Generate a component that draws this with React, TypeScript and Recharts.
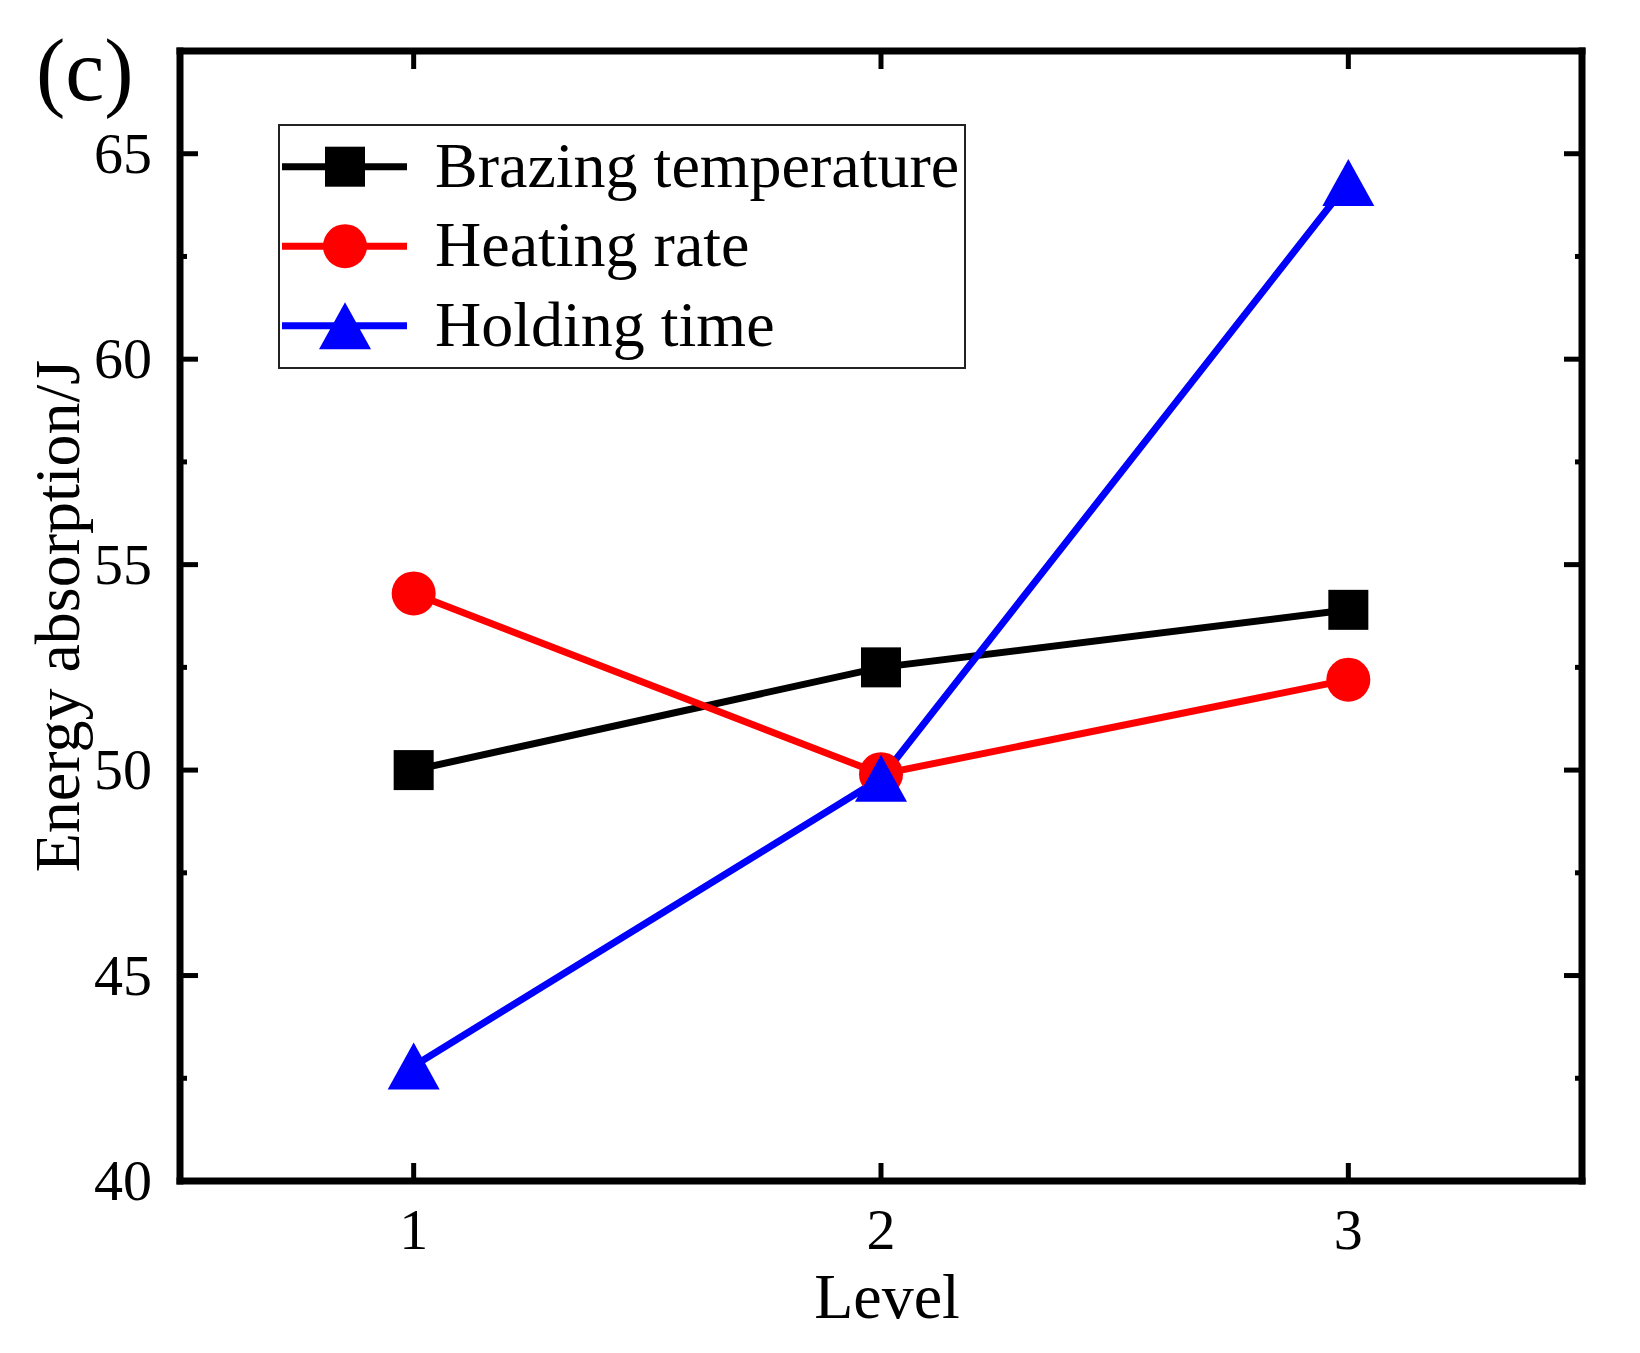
import { LineChart, Line, XAxis, YAxis, Legend, ReferenceLine } from 'recharts';

const levels = [1, 2, 3];
const brazingTemperature = [50.0, 52.5, 53.9];
const heatingRate = [54.3, 49.9, 52.2];
const holdingTime = [42.8, 49.8, 64.3];

const xDomain = [0.5, 3.5];
const yDomain = [40, 67.5];
const xTicks = [1, 2, 3];
const yMajorTicks = [40, 45, 50, 55, 60, 65];
const yMinorTicks = [42.5, 47.5, 52.5, 57.5, 62.5];
const yTicks = [...yMajorTicks, ...yMinorTicks].sort((a, b) => a - b);

const seriesNames = ['Brazing temperature', 'Heating rate', 'Holding time'];
const seriesKeys = ['brazing', 'heating', 'holding'];
const seriesColors = ['#000000', '#FF0000', '#0000FF'];
const seriesShapes = ['square', 'circle', 'triangle'];

const data = levels.map((level, i) => ({
  level,
  brazing: brazingTemperature[i],
  heating: heatingRate[i],
  holding: holdingTime[i],
}));

const FONT = "'Liberation Serif', 'Times New Roman', serif";

const Marker = ({ cx, cy, color, shape }: any) => {
  if (cx == null || cy == null) return null;
  if (shape === 'square') {
    return <rect x={cx - 20} y={cy - 20} width={40} height={40} fill={color} />;
  }
  if (shape === 'circle') {
    return <circle cx={cx} cy={cy} r={22} fill={color} />;
  }
  return (
    <polygon
      points={`${cx},${cy - 23.5} ${cx - 26},${cy + 23.5} ${cx + 26},${cy + 23.5}`}
      fill={color}
    />
  );
};

const BottomTick = ({ x, y, payload }: any) => (
  <g>
    <line x1={x} y1={y} x2={x} y2={y - 18} stroke="#000" strokeWidth={5} />
    <text x={x} y={y + 68} textAnchor="middle" fontFamily={FONT} fontSize={58} fill="#000">
      {payload.value}
    </text>
  </g>
);

const LeftTick = ({ x, y, payload }: any) => {
  const major = yMajorTicks.includes(payload.value);
  return (
    <g>
      <line x1={x} y1={y} x2={x + (major ? 18 : 7)} y2={y} stroke="#000" strokeWidth={5} />
      {major && (
        <text x={x - 28} y={y + 19} textAnchor="end" fontFamily={FONT} fontSize={58} fill="#000">
          {payload.value}
        </text>
      )}
    </g>
  );
};

// mirrored ticks on the top and right frame edges
const topTickShape = (props: any) => {
  const top = Math.min(props.y1, props.y2);
  return <line x1={props.x1} y1={top} x2={props.x1} y2={top + 18} stroke="#000" strokeWidth={5} />;
};

const rightTickShape = (value: number) => (props: any) => {
  const right = Math.max(props.x1, props.x2);
  const len = yMajorTicks.includes(value) ? 18 : 7;
  return <line x1={right - len} y1={props.y1} x2={right} y2={props.y1} stroke="#000" strokeWidth={5} />;
};

const YTitle = ({ viewBox }: any) => {
  const cy = viewBox.y + viewBox.height / 2;
  return (
    <text
      x={79}
      y={cy}
      transform={`rotate(-90, 79, ${cy})`}
      textAnchor="middle"
      fontFamily={FONT}
      fontSize={64}
      fill="#000"
    >
      Energy absorption/J
    </text>
  );
};

const XTitle = ({ viewBox }: any) => (
  <text
    x={viewBox.x + viewBox.width / 2 + 6}
    y={viewBox.y + 137}
    textAnchor="middle"
    fontFamily={FONT}
    fontSize={64}
    fill="#000"
  >
    Level
  </text>
);

const LegendBox = () => (
  <svg width={688} height={245} style={{ display: 'block' }}>
    <rect x={1} y={1} width={686} height={243} fill="#fff" stroke="#222" strokeWidth={2} />
    {seriesNames.map((name, i) => {
      const cy = 42.7 + i * 79.5;
      return (
        <g key={name}>
          <line x1={4} y1={cy} x2={129} y2={cy} stroke={seriesColors[i]} strokeWidth={7} />
          <Marker cx={67} cy={cy} color={seriesColors[i]} shape={seriesShapes[i]} />
          <text x={157} y={cy + 20} fontFamily={FONT} fontSize={64} fill="#000">
            {name}
          </text>
        </g>
      );
    })}
  </svg>
);

const axisLine = { stroke: '#000', strokeWidth: 7, strokeLinecap: 'square' as const };

export default function App() {
  return (
    <div style={{ position: 'absolute', left: 0, top: 0, width: 1640, height: 1353, background: '#fff' }}>
      <div
        style={{
          position: 'absolute',
          left: 36,
          top: 27,
          fontFamily: FONT,
          fontSize: 88,
          lineHeight: 1,
          color: '#000',
          zIndex: 2,
        }}
      >
        (c)
      </div>
      <LineChart width={1640} height={1353} data={data} margin={{ top: 51, right: 58, bottom: 0, left: 0 }}>
        <XAxis
          dataKey="level"
          type="number"
          domain={xDomain}
          allowDataOverflow
          ticks={xTicks}
          interval={0}
          height={172}
          tickSize={0}
          tickMargin={0}
          tickLine={false}
          axisLine={axisLine}
          tick={<BottomTick />}
          label={<XTitle />}
        />
        <YAxis
          type="number"
          domain={yDomain}
          allowDataOverflow
          ticks={yTicks}
          interval={0}
          width={180}
          tickSize={0}
          tickMargin={0}
          tickLine={false}
          axisLine={axisLine}
          tick={<LeftTick />}
          label={<YTitle />}
        />
        <ReferenceLine y={yDomain[1]} stroke="#000" strokeWidth={7} strokeLinecap="square" />
        <ReferenceLine x={xDomain[1]} stroke="#000" strokeWidth={7} strokeLinecap="square" />
        {xTicks.map((t) => (
          <ReferenceLine key={`tx-${t}`} x={t} shape={topTickShape} />
        ))}
        {yTicks.map((t) => (
          <ReferenceLine key={`ty-${t}`} y={t} shape={rightTickShape(t)} />
        ))}
        <Legend
          layout="horizontal"
          verticalAlign="middle"
          align="center"
          wrapperStyle={{ left: 278, top: 124, width: 688, height: 245 }}
          content={<LegendBox />}
        />
        {seriesKeys.map((key, i) => (
          <Line
            key={key}
            type="linear"
            dataKey={key}
            name={seriesNames[i]}
            stroke={seriesColors[i]}
            strokeWidth={7}
            isAnimationActive={false}
            dot={(props: any) => (
              <Marker
                key={`${key}-${props.index}`}
                cx={props.cx}
                cy={props.cy}
                color={seriesColors[i]}
                shape={seriesShapes[i]}
              />
            )}
            activeDot={false}
          />
        ))}
      </LineChart>
    </div>
  );
}
